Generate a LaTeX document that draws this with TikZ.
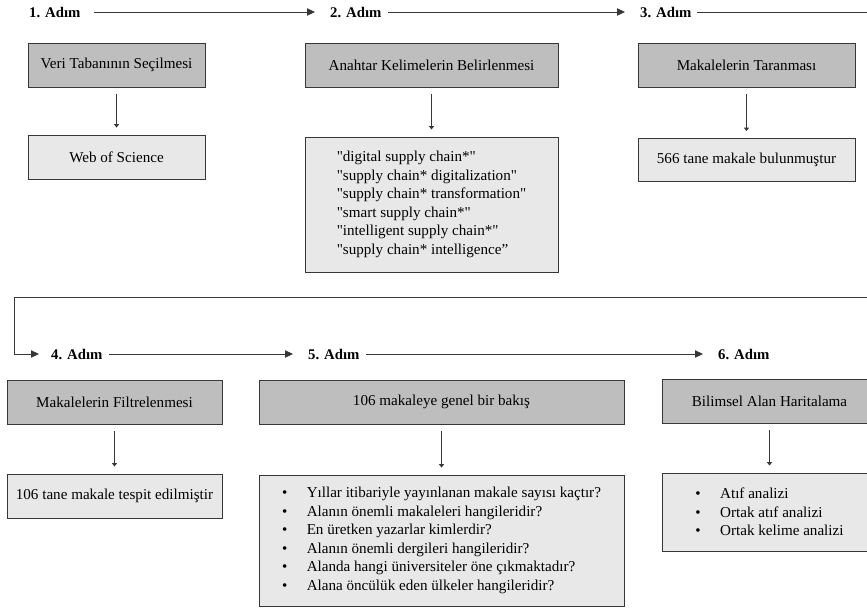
\documentclass[tikz,border=0pt]{standalone}
\usepackage{fontspec}
\setmainfont[Ligatures=TeXOff]{Liberation Serif}
\usetikzlibrary{positioning,arrows.meta}

\definecolor{dgray}{RGB}{190,190,190}
\definecolor{lgray}{RGB}{232,232,232}
\definecolor{edgec}{RGB}{55,55,55}
\newcommand{\blt}{\makebox[0.74cm][l]{\textbullet}}

\begin{document}
\begin{tikzpicture}[
    every node/.style={font=\fontsize{12.9}{15.8}\selectfont},
    stp/.style={font=\fontsize{12.6}{15}\selectfont\bfseries, anchor=west, inner xsep=0pt},
    dbox/.style={draw=edgec, fill=dgray, line width=0.8pt, minimum height=1.32cm, align=center},
    lbox/.style={draw=edgec, fill=lgray, line width=0.8pt, minimum height=1.32cm, align=left},
    arr/.style={-{Triangle[length=0.24cm,width=0.22cm]}, line width=0.7pt, draw=edgec,
                shorten <=0.2cm, shorten >=0.45cm},
    varr/.style={-{Triangle[length=0.1cm,width=0.15cm]}, line width=0.6pt, draw=edgec,
                 shorten <=0.21cm, shorten >=0.21cm},
]
\path[use as bounding box, clip] (0,0) rectangle (26.01,-18.21);
% Row 1: step labels
\node[stp] (s1) at (0.87,-0.36) {1. Adım};
\node[stp] (s2) at (9.9,-0.36)  {2. Adım};
\node[stp] (s3) at (19.2,-0.36) {3. Adım};
% Row 1: boxes
\node[dbox, minimum width=5.31cm] (b1) at (3.495,-1.95)  {Veri Tabanının Seçilmesi};
\node[dbox, minimum width=7.59cm] (b2) at (12.945,-1.95) {Anahtar Kelimelerin Belirlenmesi};
\node[dbox, minimum width=6.51cm] (b3) at (22.395,-1.95) {Makalelerin Taranması};
\node[lbox, minimum width=5.31cm] (r1) at (3.495,-4.71)  {Web of Science};
\node[lbox, minimum width=7.59cm, minimum height=4.05cm] (r2) at (12.945,-6.135) {%
  "digital supply chain*"\\
  "supply chain* digitalization"\\
  "supply chain* transformation"\\
  "smart supply chain*"\\
  "intelligent supply chain*"\\
  "supply chain* intelligence”};
\node[lbox, minimum width=6.51cm, minimum height=1.29cm] (r3) at (22.395,-4.8) {566 tane makale bulunmuştur};
% Row 2: step labels
\node[stp] (s4) at (1.53,-10.62)  {4. Adım};
\node[stp] (s5) at (9.24,-10.62)  {5. Adım};
\node[stp] (s6) at (21.54,-10.62) {6. Adım};
% Row 2: boxes
\node[dbox, minimum width=6.45cm]  (b4) at (3.435,-12.06)  {Makalelerin Filtrelenmesi};
\node[dbox, minimum width=10.95cm] (b5) at (13.245,-12.06) {106 makaleye genel bir bakış};
\node[dbox, minimum width=6.45cm]  (b6) at (23.085,-12.03) {Bilimsel Alan Haritalama};
\node[lbox, minimum width=6.45cm]  (r4) at (3.435,-14.88)  {106 tane makale tespit edilmiştir};
\node[lbox, minimum width=10.95cm, minimum height=3.93cm] (r5) at (13.245,-16.215) {%
  \blt Yıllar itibariyle yayınlanan makale sayısı kaçtır?\\
  \blt Alanın önemli makaleleri hangileridir?\\
  \blt En üretken yazarlar kimlerdir?\\
  \blt Alanın önemli dergileri hangileridir?\\
  \blt Alanda hangi üniversiteler öne çıkmaktadır?\\
  \blt Alana öncülük eden ülkeler hangileridir?};
\node[lbox, minimum width=6.45cm, minimum height=2.34cm] (r6) at (23.085,-15.36) {%
  \blt Atıf analizi\\
  \blt Ortak atıf analizi\\
  \blt Ortak kelime analizi};
% Step arrows
\draw[arr, shorten <=0.39cm] (s1) -- (s2);
\draw[arr] (s2) -- (s3);
\draw[arr] (s4) -- (s5);
\draw[arr] (s5) -- (s6);
% Return from step 3 to step 4 (runs off the right edge)
\coordinate (rgt)  at (26.2,-0.36);
\coordinate (ret1) at (26.2,-8.91);
\coordinate (ret2) at (0.42,-8.91);
\draw[arr, shorten <=0.15cm, shorten >=0.36cm] (s3.east) -- (rgt) -- (ret1) -- (ret2) |- (s4.west);
% Box to box
\draw[varr] (b1) -- (r1);
\draw[varr] (b2) -- (r2);
\draw[varr] (b3) -- (r3);
\draw[varr] (b4) -- (r4);
\draw[varr] (b5) -- (r5);
\draw[varr] (b6) -- (r6);
\end{tikzpicture}
\end{document}
